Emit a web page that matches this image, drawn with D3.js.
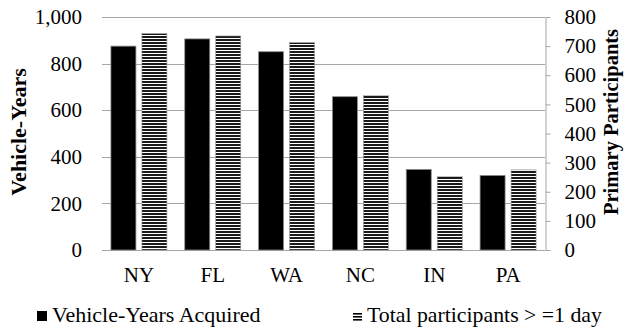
<!DOCTYPE html>
<html>
<head>
<meta charset="utf-8">
<script src="https://cdn.jsdelivr.net/npm/d3@7"></script>
</head>
<body style="margin:0;padding:0;background:#fff">
<svg id="chart" width="625" height="331" style="display:block"></svg>
<script>
// Vehicle-years acquired (left axis) and participants (right axis) by state
const states = ["NY", "FL", "WA", "NC", "IN", "PA"];
const vehicleYears = [875, 906, 851, 658, 346, 320];
const participants = [743, 735, 712, 530, 252, 275];
const leftTicks = [0, 200, 400, 600, 800, 1000];
const rightTicks = [0, 100, 200, 300, 400, 500, 600, 700, 800];
const legendLabels = ["Vehicle-Years Acquired", "Total participants > =1 day"];

const serif = '"Liberation Serif"';
const svg = d3.select("#chart");
const plot = { left: 102, right: 545, top: 17, bottom: 250 };
const gridColor = "#a6a6a6";

// Horizontal stripe fill for the participants series
const defs = svg.append("defs");
const pat = defs.append("pattern")
  .attr("id", "stripes")
  .attr("patternUnits", "userSpaceOnUse")
  .attr("width", 8).attr("height", 3);
pat.append("rect").attr("width", 8).attr("height", 3).attr("fill", "#fff");
pat.append("rect").attr("y", 0).attr("width", 8).attr("height", 2).attr("fill", "#1a1a1a");

const x = d3.scaleBand().domain(states).range([plot.left, plot.right]).paddingInner(0).paddingOuter(0);
const yL = d3.scaleLinear().domain([0, 1000]).range([plot.bottom, plot.top]);
const yR = d3.scaleLinear().domain([0, 800]).range([plot.bottom, plot.top]);

const fmt = d3.format(",");

function styleText(sel, size, weight) {
  sel.style("font-family", serif)
    .style("font-size", size + "px")
    .style("font-weight", weight || "normal")
    .attr("fill", "#000");
}

// Gridlines from the left scale
svg.append("g")
  .selectAll("line")
  .data(leftTicks)
  .join("line")
  .attr("x1", plot.left).attr("x2", plot.right)
  .attr("y1", d => Math.round(yL(d)) + 0.5).attr("y2", d => Math.round(yL(d)) + 0.5)
  .attr("stroke", gridColor).attr("stroke-width", 1);

// Left tick labels
const leftAxis = svg.append("g")
  .attr("transform", `translate(${plot.left},0)`)
  .call(d3.axisLeft(yL).tickValues(leftTicks).tickFormat(fmt).tickSize(0).tickPadding(20));
leftAxis.select(".domain").remove();
styleText(leftAxis.selectAll("text"), 21);

// Right axis with outward ticks
const rightAxis = svg.append("g")
  .attr("transform", `translate(${plot.right + 0.5},0)`)
  .call(d3.axisRight(yR).tickValues(rightTicks).tickSizeInner(5).tickSizeOuter(0).tickPadding(14));
rightAxis.select(".domain").attr("stroke", gridColor);
rightAxis.selectAll(".tick line").attr("stroke", gridColor);
styleText(rightAxis.selectAll("text"), 21);

// Bars
const barW = 25, gap = 6;
const groups = svg.append("g")
  .selectAll("g")
  .data(states.map((s, i) => ({ s, v: vehicleYears[i], p: participants[i] })))
  .join("g");

groups.append("rect")
  .attr("x", d => x(d.s) + x.bandwidth() / 2 - gap / 2 - barW)
  .attr("y", d => yL(d.v))
  .attr("width", barW)
  .attr("height", d => yL(0) - yL(d.v))
  .attr("fill", "#000")
  .attr("stroke", "#8c8c8c").attr("stroke-width", 0.8);

groups.append("rect")
  .attr("x", d => x(d.s) + x.bandwidth() / 2 + gap / 2)
  .attr("y", d => yR(d.p))
  .attr("width", barW)
  .attr("height", d => yR(0) - yR(d.p))
  .attr("fill", "url(#stripes)")
  .attr("stroke", "#9a9a9a").attr("stroke-width", 0.6);

// Category labels
const bottomAxis = svg.append("g")
  .attr("transform", `translate(0,${plot.bottom})`)
  .call(d3.axisBottom(x).tickSize(0).tickPadding(17));
bottomAxis.select(".domain").remove();
styleText(bottomAxis.selectAll("text"), 21);

// Axis titles
styleText(svg.append("text")
  .attr("transform", `translate(26,132) rotate(-90)`)
  .attr("text-anchor", "middle")
  .text("Vehicle-Years"), 22, "bold");

styleText(svg.append("text")
  .attr("transform", `translate(618,122) rotate(-90)`)
  .attr("text-anchor", "middle")
  .text("Primary Participants"), 20.5, "bold");

// Legend
svg.append("rect")
  .attr("x", 37).attr("y", 311).attr("width", 10).attr("height", 10)
  .attr("fill", "#000");
styleText(svg.append("text")
  .attr("x", 52).attr("y", 322)
  .text(legendLabels[0]), 22);

svg.append("g")
  .selectAll("rect")
  .data([0, 1, 2])
  .join("rect")
  .attr("x", 353).attr("y", d => 313 + d * 3)
  .attr("width", 9).attr("height", 1.6)
  .attr("fill", "#000");
styleText(svg.append("text")
  .attr("x", 367).attr("y", 322)
  .text(legendLabels[1]), 21.8);
</script>
</body>
</html>
